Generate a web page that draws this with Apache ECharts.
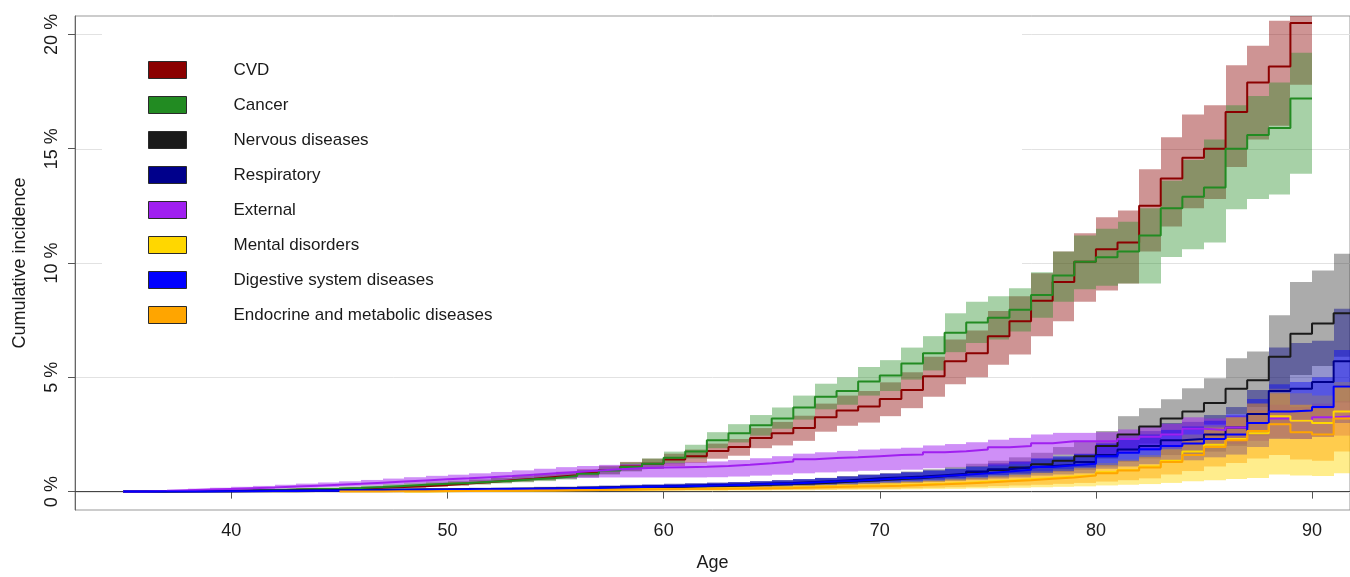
<!DOCTYPE html>
<html>
<head>
<meta charset="utf-8">
<script src="https://cdn.jsdelivr.net/npm/echarts@6.0.0/dist/echarts.min.js"></script>
<style>
html,body{margin:0;padding:0;background:#fff;}
#chart{width:1350px;height:577px;}
</style>
</head>
<body>
<div id="chart"></div>
<script>
// ---- data ----
const ages = [35,36,37,38,39,40,41,42,43,44,
  45,46,47,48,49,50,51,52,53,54,
  55,56,57,58,59,60,61,62,63,64,
  65,66,67,68,69,70,71,72,73,74,
  75,76,77,78,79,80,81,82,83,84,
  85,86,87,88,89,90,91];
const xTicks = [40,50,60,70,80,90];
const yTicks = [0,5,10,15,20];
const N = null;

const cvdEst = [0.00,0.01,0.02,0.03,0.04,0.05,0.06,0.08,0.10,0.12,
  0.14,0.17,0.20,0.24,0.29,0.35,0.42,0.50,0.56,0.64,
  0.72,0.82,0.95,1.10,1.22,1.40,1.55,1.78,1.95,2.35,
  2.55,2.78,3.25,3.55,3.72,4.05,4.45,5.05,5.70,6.05,
  6.80,7.45,8.35,9.17,10.05,10.60,10.90,12.50,13.70,14.60,
  15.00,16.60,17.90,18.60,20.50,N,N];
const cvdLo = [0.00,0.00,0.01,0.02,0.02,0.03,0.04,0.05,0.07,0.08,
  0.10,0.12,0.14,0.17,0.21,0.26,0.32,0.39,0.44,0.50,
  0.57,0.66,0.77,0.90,1.00,1.12,1.25,1.44,1.57,1.90,
  2.02,2.22,2.62,2.88,3.02,3.30,3.65,4.15,4.70,5.00,
  5.55,6.00,6.80,7.45,8.30,8.80,9.10,10.50,11.60,12.40,
  12.80,14.20,15.40,16.00,17.80,N,N];
const cvdHi = [0.01,0.02,0.03,0.05,0.06,0.07,0.08,0.11,0.13,0.16,
  0.18,0.22,0.26,0.31,0.37,0.44,0.52,0.61,0.68,0.78,
  0.87,0.98,1.13,1.30,1.44,1.66,1.84,2.10,2.30,2.78,
  3.05,3.32,3.85,4.20,4.40,4.78,5.22,5.90,6.65,7.05,
  7.90,8.55,9.55,10.50,11.30,12.00,12.30,14.10,15.50,16.50,
  16.90,18.65,19.50,20.60,22.50,N,N];

const canEst = [0.00,0.01,0.02,0.03,0.04,0.05,0.07,0.09,0.11,0.13,
  0.16,0.20,0.25,0.30,0.34,0.38,0.43,0.48,0.54,0.60,
  0.68,0.78,0.92,1.08,1.22,1.48,1.75,2.25,2.55,2.90,
  3.20,3.68,4.15,4.40,4.82,5.08,5.60,6.05,6.95,7.40,
  7.60,7.95,8.60,9.45,10.05,10.25,10.50,11.20,12.40,12.90,
  13.30,15.00,15.60,15.90,17.20,N,N];
const canLo = [0.00,0.00,0.01,0.01,0.02,0.03,0.04,0.05,0.07,0.08,
  0.10,0.13,0.17,0.21,0.24,0.28,0.32,0.36,0.41,0.46,
  0.53,0.62,0.74,0.88,1.00,1.22,1.45,1.90,2.15,2.45,
  2.75,3.15,3.60,3.80,4.20,4.40,4.90,5.30,6.10,6.50,
  6.65,7.00,7.60,8.30,8.85,9.00,9.10,9.10,10.26,10.60,
  10.90,12.35,12.80,13.00,13.90,N,N];
const canHi = [0.01,0.02,0.03,0.05,0.06,0.07,0.10,0.12,0.15,0.18,
  0.22,0.27,0.33,0.39,0.44,0.48,0.54,0.60,0.67,0.74,
  0.83,0.95,1.10,1.28,1.45,1.75,2.05,2.60,2.95,3.35,
  3.68,4.20,4.72,5.00,5.45,5.75,6.30,6.80,7.80,8.30,
  8.55,8.90,9.60,10.50,11.20,11.50,11.80,12.40,13.60,14.50,
  15.40,16.90,17.30,17.90,19.20,N,N];

const nerEst = [0.00,0.00,0.01,0.01,0.01,0.02,0.02,0.02,0.03,0.03,
  0.04,0.04,0.05,0.05,0.06,0.07,0.08,0.09,0.10,0.11,
  0.12,0.13,0.15,0.17,0.19,0.21,0.23,0.25,0.27,0.30,
  0.33,0.36,0.40,0.45,0.50,0.55,0.60,0.67,0.75,0.85,
  0.95,1.05,1.20,1.35,1.55,2.00,2.50,2.85,3.20,3.50,
  3.88,4.50,4.87,5.90,6.90,7.35,7.80];
const nerLo = [0.00,0.00,0.00,0.00,0.00,0.01,0.01,0.01,0.01,0.01,
  0.02,0.02,0.02,0.02,0.03,0.03,0.04,0.04,0.05,0.06,
  0.06,0.07,0.08,0.09,0.10,0.12,0.13,0.15,0.16,0.18,
  0.20,0.22,0.25,0.28,0.32,0.35,0.38,0.43,0.48,0.55,
  0.62,0.70,0.80,0.90,1.05,1.45,1.80,2.10,2.45,2.70,
  2.95,3.40,3.70,4.40,5.10,5.50,5.90];
const nerHi = [0.01,0.01,0.02,0.02,0.03,0.04,0.04,0.04,0.05,0.06,
  0.07,0.07,0.08,0.09,0.10,0.11,0.13,0.14,0.16,0.17,
  0.19,0.21,0.23,0.26,0.29,0.32,0.35,0.38,0.41,0.45,
  0.50,0.54,0.60,0.67,0.74,0.80,0.88,0.98,1.08,1.22,
  1.35,1.50,1.70,1.95,2.20,2.65,3.30,3.65,4.04,4.52,
  4.96,5.83,6.13,7.71,9.17,9.67,10.40];

const resEst = [0.00,0.03,0.03,0.04,0.04,0.05,0.05,0.06,0.06,0.07,
  0.07,0.08,0.09,0.10,0.10,0.11,0.12,0.13,0.14,0.15,
  0.16,0.18,0.20,0.22,0.24,0.26,0.28,0.30,0.32,0.35,
  0.38,0.42,0.46,0.52,0.58,0.62,0.66,0.72,0.78,0.88,
  0.98,1.05,1.12,1.17,1.30,1.60,1.84,2.00,2.25,2.30,
  2.50,2.80,3.40,4.40,4.50,4.80,5.70];
const resLo = [0.00,0.01,0.01,0.02,0.02,0.02,0.03,0.03,0.03,0.04,
  0.04,0.05,0.05,0.06,0.06,0.07,0.07,0.08,0.09,0.10,
  0.10,0.12,0.13,0.15,0.16,0.18,0.19,0.21,0.22,0.24,
  0.26,0.29,0.32,0.37,0.42,0.45,0.48,0.52,0.57,0.64,
  0.72,0.77,0.82,0.86,0.95,1.10,1.30,1.45,1.60,1.65,
  1.75,2.00,2.45,3.00,3.10,3.30,3.90];
const resHi = [0.01,0.05,0.05,0.06,0.06,0.07,0.07,0.08,0.09,0.10,
  0.10,0.11,0.13,0.14,0.14,0.15,0.17,0.18,0.19,0.21,
  0.22,0.25,0.27,0.30,0.32,0.35,0.37,0.40,0.42,0.46,
  0.50,0.55,0.60,0.68,0.75,0.80,0.85,0.93,1.00,1.12,
  1.25,1.34,1.43,1.50,1.66,2.15,2.45,2.65,3.00,3.05,
  3.35,3.70,4.45,6.30,6.50,6.60,8.00];

const extEst = [0.01,0.03,0.06,0.09,0.12,0.15,0.18,0.22,0.26,0.30,
  0.34,0.39,0.44,0.49,0.54,0.58,0.63,0.68,0.74,0.80,
  0.86,0.92,0.98,1.02,1.05,1.07,1.09,1.12,1.17,1.24,
  1.32,1.42,1.47,1.50,1.55,1.60,1.62,1.72,1.77,1.84,
  1.94,2.00,2.12,2.20,2.20,2.20,2.30,2.40,2.50,2.75,
  2.70,2.80,3.00,3.20,3.10,3.25,3.30];
const extLo = [0.00,0.01,0.03,0.05,0.07,0.09,0.11,0.14,0.17,0.20,
  0.23,0.27,0.31,0.35,0.38,0.41,0.44,0.47,0.51,0.55,
  0.58,0.60,0.62,0.62,0.62,0.62,0.62,0.63,0.66,0.70,
  0.74,0.80,0.84,0.88,0.91,0.94,0.96,1.02,1.06,1.10,
  1.13,1.20,1.40,1.62,1.62,1.65,1.72,1.80,1.88,2.05,
  2.02,2.08,2.22,2.35,2.30,2.40,2.45];
const extHi = [0.02,0.05,0.09,0.13,0.17,0.21,0.25,0.30,0.35,0.40,
  0.45,0.51,0.57,0.63,0.69,0.74,0.80,0.86,0.93,1.00,
  1.07,1.12,1.17,1.21,1.24,1.26,1.28,1.32,1.38,1.46,
  1.55,1.66,1.72,1.78,1.84,1.88,1.92,2.02,2.08,2.16,
  2.27,2.35,2.50,2.57,2.57,2.60,2.72,2.84,2.96,3.25,
  3.20,3.32,3.55,3.80,3.70,3.85,3.95];

const menEst = [N,N,N,N,N,N,N,N,N,N,
  N,N,N,0.01,0.02,0.03,0.04,0.05,0.05,0.06,
  0.07,0.08,0.09,0.10,0.11,0.12,0.13,0.14,0.15,0.16,
  0.18,0.20,0.22,0.24,0.26,0.28,0.31,0.34,0.38,0.43,
  0.48,0.54,0.60,0.66,0.72,0.85,0.95,1.10,1.35,1.75,
  2.05,2.30,2.55,3.30,3.10,3.00,3.50];
const menLo = [N,N,N,N,N,N,N,N,N,N,
  N,N,N,0.00,0.00,0.01,0.01,0.01,0.01,0.02,
  0.02,0.02,0.03,0.03,0.03,0.04,0.04,0.04,0.05,0.05,
  0.06,0.06,0.07,0.08,0.08,0.09,0.10,0.11,0.12,0.14,
  0.15,0.17,0.19,0.21,0.23,0.27,0.30,0.33,0.38,0.45,
  0.50,0.55,0.60,0.75,0.70,0.68,0.80];
const menHi = [N,N,N,N,N,N,N,N,N,N,
  N,N,N,0.02,0.04,0.06,0.07,0.09,0.09,0.10,
  0.12,0.13,0.15,0.16,0.18,0.19,0.21,0.22,0.24,0.25,
  0.28,0.31,0.34,0.37,0.40,0.43,0.47,0.52,0.58,0.65,
  0.72,0.80,0.89,0.98,1.07,1.25,1.40,1.60,1.95,2.50,
  2.90,3.25,3.55,4.50,4.30,4.20,4.80];

const digEst = [0.00,0.00,0.01,0.01,0.02,0.02,0.03,0.03,0.04,0.04,
  0.05,0.05,0.06,0.07,0.08,0.09,0.10,0.11,0.12,0.13,
  0.14,0.16,0.18,0.20,0.22,0.24,0.26,0.28,0.30,0.33,
  0.36,0.40,0.44,0.48,0.53,0.58,0.62,0.68,0.74,0.80,
  0.88,0.96,1.08,1.15,1.22,1.55,1.70,1.85,2.00,2.10,
  2.30,2.50,3.00,3.50,3.55,3.70,4.60];
const digLo = [0.00,0.00,0.00,0.00,0.01,0.01,0.02,0.02,0.02,0.02,
  0.03,0.03,0.04,0.04,0.05,0.06,0.06,0.07,0.08,0.08,
  0.09,0.10,0.12,0.13,0.14,0.16,0.17,0.18,0.20,0.21,
  0.23,0.26,0.29,0.31,0.34,0.38,0.40,0.44,0.48,0.52,
  0.57,0.62,0.70,0.75,0.80,1.00,1.10,1.20,1.30,1.37,
  1.50,1.62,1.95,2.30,2.30,2.40,3.00];
const digHi = [0.01,0.01,0.02,0.02,0.03,0.03,0.04,0.04,0.05,0.05,
  0.07,0.07,0.08,0.09,0.11,0.12,0.14,0.15,0.16,0.18,
  0.19,0.22,0.24,0.27,0.30,0.32,0.35,0.38,0.41,0.45,
  0.49,0.54,0.59,0.65,0.72,0.78,0.84,0.92,1.00,1.08,
  1.19,1.30,1.46,1.55,1.65,2.10,2.30,2.50,2.70,2.85,
  3.10,3.38,4.05,4.70,4.80,5.00,6.20];

const endEst = [N,N,N,N,N,N,N,N,N,N,
  0.01,0.01,0.02,0.02,0.03,0.03,0.04,0.04,0.05,0.05,
  0.06,0.07,0.08,0.09,0.10,0.11,0.12,0.13,0.14,0.15,
  0.16,0.18,0.20,0.22,0.24,0.26,0.29,0.32,0.36,0.40,
  0.45,0.50,0.56,0.62,0.70,0.80,0.92,1.05,1.30,1.60,
  1.95,2.25,2.65,2.95,2.60,2.50,3.20];
const endLo = [N,N,N,N,N,N,N,N,N,N,
  0.00,0.00,0.01,0.01,0.01,0.01,0.02,0.02,0.02,0.02,
  0.03,0.03,0.04,0.04,0.05,0.05,0.06,0.06,0.07,0.07,
  0.08,0.09,0.10,0.11,0.12,0.13,0.15,0.17,0.19,0.21,
  0.24,0.27,0.30,0.34,0.38,0.44,0.50,0.58,0.75,0.90,
  1.10,1.25,1.45,1.60,1.40,1.35,1.75];
const endHi = [N,N,N,N,N,N,N,N,N,N,
  0.02,0.02,0.03,0.03,0.05,0.05,0.06,0.06,0.08,0.08,
  0.09,0.11,0.12,0.14,0.15,0.17,0.18,0.20,0.21,0.23,
  0.24,0.27,0.30,0.33,0.36,0.39,0.43,0.47,0.53,0.59,
  0.66,0.73,0.82,0.90,1.02,1.16,1.34,1.52,1.85,2.30,
  2.80,3.25,3.85,4.30,3.80,3.65,4.65];

const causes = [
  {name:'CVD', color:'#8B0000', band:'rgba(139,0,0,0.42)', est:cvdEst, lo:cvdLo, hi:cvdHi},
  {name:'Cancer', color:'#228B22', band:'rgba(34,139,34,0.40)', est:canEst, lo:canLo, hi:canHi},
  {name:'Nervous diseases', color:'#1A1A1A', band:'rgba(26,26,26,0.37)', est:nerEst, lo:nerLo, hi:nerHi},
  {name:'Respiratory', color:'#00008B', band:'rgba(0,0,139,0.42)', est:resEst, lo:resLo, hi:resHi},
  {name:'External', color:'#A020F0', band:'rgba(160,32,240,0.50)', est:extEst, lo:extLo, hi:extHi},
  {name:'Mental disorders', color:'#FFD700', band:'rgba(255,215,0,0.45)', est:menEst, lo:menLo, hi:menHi},
  {name:'Digestive system diseases', color:'#0000FF', band:'rgba(0,0,255,0.42)', est:digEst, lo:digLo, hi:digHi},
  {name:'Endocrine and metabolic diseases', color:'#FFA500', band:'rgba(255,165,0,0.45)', est:endEst, lo:endLo, hi:endHi}
];

// ---- chart ----
const XMIN = 32.765, XMAX = 91.757, YMIN = -0.804, YMAX = 20.804;
const FONT = "'Liberation Sans', Arial, Helvetica, sans-serif";
const chart = echarts.init(document.getElementById('chart'), null, {renderer:'canvas'});

function clipToGrid(r, cs){
  return echarts.graphic.clipRectByRect(r, {x:cs.x, y:cs.y, width:cs.width, height:cs.height});
}

const series = [];

// grid lines
series.push({
  type:'custom', name:'_grid', silent:true, z:0,
  data: yTicks.map(v => [XMIN, v]),
  encode:{x:0, y:1},
  renderItem: function(params, api){
    const cs = params.coordSys;
    const y = Math.round(api.coord([XMIN, api.value(1)])[1]) + 0.5;
    return {type:'line', shape:{x1:cs.x, y1:y, x2:cs.x+cs.width, y2:y},
            style:{stroke:'#e2e2e2', lineWidth:1}};
  }
});
// white legend backdrop
series.push({
  type:'custom', name:'_box', silent:true, z:1,
  data: [[XMIN, 0]],
  encode:{x:0, y:1},
  renderItem: function(params, api){
    const cs = params.coordSys;
    return {type:'rect', shape:{x:cs.x+27, y:cs.y+1, width:920, height:324},
            style:{fill:'#ffffff'}};
  }
});

// bands
causes.forEach(c => {
  const data = [];
  ages.forEach((a, i) => {
    if (c.lo[i] != null && c.hi[i] != null) data.push([a, c.lo[i], c.hi[i]]);
  });
  series.push({
    type:'custom', name:c.name, z:3, silent:true,
    itemStyle:{color:c.color},
    data: data,
    encode:{x:0, y:[1,2]},
    renderItem: function(params, api){
      const a = api.value(0), lo = api.value(1), hi = api.value(2);
      const p0 = api.coord([a, hi]);
      const p1 = api.coord([a + 1, lo]);
      const x0 = Math.round(p0[0]), x1 = Math.round(p1[0]);
      const r = clipToGrid({x:x0, y:p0[1], width:x1 - x0, height:Math.max(p1[1] - p0[1], 0.8)}, params.coordSys);
      if (!r) return null;
      return {type:'rect', shape:r, style:{fill:c.band}};
    }
  });
});

// estimate step lines
causes.forEach(c => {
  const pts = [];
  let last = -1;
  ages.forEach((a, i) => {
    if (c.est[i] != null) { pts.push([a, c.est[i]]); last = i; }
  });
  if (last >= 0) pts.push([ages[last] + 1, c.est[last]]);
  series.push({
    type:'line', name:c.name + ' estimate', step:'end', z:5, silent:true,
    showSymbol:false, symbol:'none',
    lineStyle:{color:c.color, width:2},
    itemStyle:{color:c.color},
    data: pts
  });
});

const option = {
  animation:false,
  backgroundColor:'#ffffff',
  textStyle:{fontFamily:FONT},
  grid:{left:75, top:16, width:1276, height:497, show:true, borderColor:'#999999', borderWidth:1, backgroundColor:'transparent'},
  legend:{
    show:true, orient:'vertical', left:148, top:61, padding:0,
    icon:'rect', itemWidth:38, itemHeight:17, itemGap:17,
    selectedMode:false,
    itemStyle:{borderColor:'#2a2a2a', borderWidth:1},
    textStyle:{fontSize:17, color:'#1a1a1a', fontFamily:FONT, padding:[0,0,0,42], lineHeight:18},
    data: causes.map(c => ({name:c.name}))
  },
  xAxis:{
    type:'value', min:XMIN, max:XMAX,
    name:'Age', nameLocation:'middle', nameGap:44,
    nameTextStyle:{fontSize:18, color:'#1a1a1a', fontFamily:FONT},
    axisLine:{show:true, lineStyle:{color:'#444444', width:1}},
    axisTick:{show:true, length:7, customValues:xTicks, lineStyle:{color:'#555555'}},
    axisLabel:{show:true, customValues:xTicks, fontSize:18, color:'#1a1a1a', margin:12, fontFamily:FONT},
    splitLine:{show:false}
  },
  yAxis:{
    type:'value', min:YMIN, max:YMAX,
    name:'Cumulative incidence', nameLocation:'middle', nameGap:46,
    nameTextStyle:{fontSize:18, color:'#1a1a1a', fontFamily:FONT},
    axisLine:{show:true, lineStyle:{color:'#666666', width:1}},
    axisTick:{show:true, length:7, customValues:yTicks, lineStyle:{color:'#555555'}},
    axisLabel:{show:true, customValues:yTicks, rotate:90, fontSize:18, color:'#1a1a1a', margin:14, fontFamily:FONT,
      formatter: v => v + ' %'},
    splitLine:{show:false}
  },
  series: series
};
chart.setOption(option);
</script>
</body>
</html>
